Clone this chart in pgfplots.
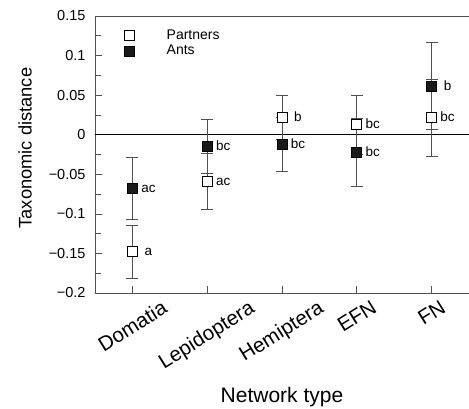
\documentclass[border=0pt]{standalone}
\usepackage{fontspec}
\setmainfont{Liberation Sans}
\usepackage{graphicx}
\usepackage{pgfplots}
\pgfplotsset{compat=1.18}
\usepackage{pgfplotstable}

% x  mean  error  letter
\pgfplotstableread{
x y err lab
1 -0.148  0.034 a
2 -0.059  0.035 ac
3 0.022   0.028 b
4 0.0125  0.037 bc
5 0.0215  0.049 bc
}\partners
\pgfplotstableread{
x y err lab
1 -0.068  0.039 ac
2 -0.0145 0.034 bc
3 -0.012  0.034 bc
4 -0.0225 0.043 bc
5 0.0615  0.055 b
}\ants

\definecolor{axgray}{RGB}{80,80,80}
\pgfplotsset{
  sqlegend/.style={legend image code/.code={\path[draw=none, fill=none] (0pt,0pt) rectangle (50pt,0.1pt);
    \draw[##1, draw=none] plot coordinates {(15pt,0pt)};}},
  errs/.style={error bars/.cd, y dir=both, y explicit,
    error bar style={axgray, line width=0.8pt},
    error mark options={rotate=90, mark size=6pt, axgray, line width=0.8pt}},
}

\begin{document}
\begin{tikzpicture}
\useasboundingbox (-95pt,-115pt) rectangle (374pt,293pt);
\begin{axis}[
  at={(0,0)}, anchor=south west,
  scale only axis, width=374pt, height=277pt,
  xmin=0.5, xmax=5.5, ymin=-0.2, ymax=0.15,
  axis x line*=box, axis y line*=left,
  axis line style={axgray, line width=0.7pt},
  xtick={1,2,3,4,5}, xtick pos=bottom,
  xticklabels={\rotatebox{32}{Domatia},\rotatebox{32}{Lepidoptera},\rotatebox{32}{Hemiptera},\rotatebox{32}{EFN},\rotatebox{32}{FN}},
  xticklabel style={anchor=north, inner sep=0pt, yshift=-6pt, font=\fontsize{20.5}{22}\selectfont},
  ytick={-0.2,-0.15,-0.1,-0.05,0,0.05,0.1,0.15},
  yticklabels={−0.2,−0.15,−0.1,−0.05,0,0.05,0.1,0.15},
  minor y tick num=1, ytick pos=left,
  yticklabel style={font=\fontsize{14.5}{16}\selectfont, xshift=-6pt},
  tick align=inside, major tick length=7pt, minor tick length=6pt,
  tick style={axgray, line width=0.7pt},
  xlabel={Network type}, ylabel={Taxonomic distance},
  every axis x label/.style={at={(axis description cs:0.5,-0.375)}, anchor=center, font=\fontsize{21}{24}\selectfont},
  every axis y label/.style={at={(axis description cs:-0.187,0.523)}, rotate=90, anchor=center, font=\fontsize{18.3}{21}\selectfont},
  legend style={draw=none, fill=none, at={(0,1)}, anchor=north west, xshift=19.5pt, yshift=-12pt,
    font=\fontsize{14}{16}\selectfont, row sep=0pt, inner sep=0pt, nodes={inner sep=2pt}},
  legend cell align=left,
  nodes near coords, point meta=explicit symbolic,
  nodes near coords align={horizontal},
  every node near coord/.append style={font=\fontsize{13.5}{15}\selectfont, inner sep=0pt, xshift=16pt, yshift=-4.5pt, black},
]
\draw[black, line width=0.7pt] (axis cs:0.5,0) -- (axis cs:5.5,0);
\addplot[only marks, mark=square*, mark size=5pt, mark options={fill=white, draw=black, line width=0.7pt},
  sqlegend, errs]
  table[x=x, y=y, y error=err, meta=lab] {\partners};
\addlegendentry{Partners}
\addplot[only marks, mark=square*, mark size=5pt, mark options={fill=black!90, draw=black, line width=0.7pt},
  sqlegend, errs]
  table[x=x, y=y, y error=err, meta=lab] {\ants};
\addlegendentry{Ants}
\end{axis}
\end{tikzpicture}
\end{document}
